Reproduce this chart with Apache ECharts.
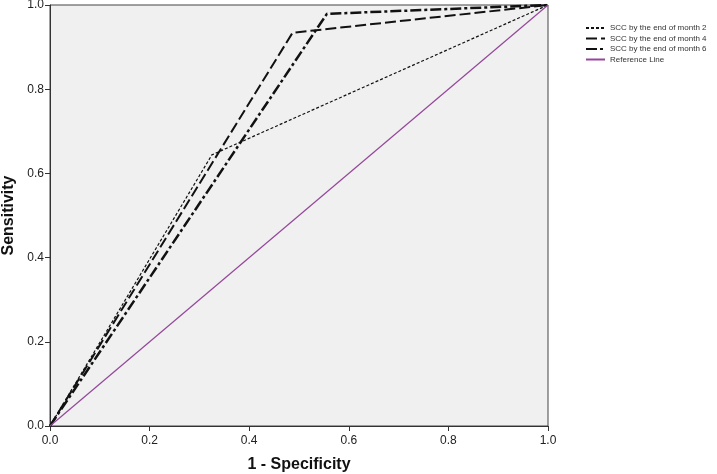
<!DOCTYPE html>
<html>
<head>
<meta charset="utf-8">
<script src="https://cdn.jsdelivr.net/npm/echarts@6/dist/echarts.min.js"></script>
<style>html,body{margin:0;padding:0;background:#fff}#c{width:717px;height:474px}</style>
</head>
<body>
<div id="c"></div>
<script>
const month2X = [0, 0.325, 1];
const month2Y = [0, 0.644, 1];
const month4X = [0, 0.487, 1];
const month4Y = [0, 0.934, 1];
const month6X = [0, 0.556, 1];
const month6Y = [0, 0.979, 1];
const refX = [0, 1];
const refY = [0, 1];
const seriesNames = ['SCC by the end of month 2', 'SCC by the end of month 4', 'SCC by the end of month 6', 'Reference Line'];

const pairs = (xs, ys) => xs.map((x, i) => [x, ys[i]]);
const chart = echarts.init(document.getElementById('c'), null, {renderer: 'canvas'});
const axisLabel = {fontFamily: 'Liberation Sans', fontSize: 12, color: '#222', formatter: v => v.toFixed(1)};
chart.setOption({
  animation: false,
  grid: {left: 50, right: 169, top: 5, bottom: 48, containLabel: false, outerBoundsMode: 'none',
         show: true, backgroundColor: '#f0f0f0', borderColor: '#444', borderWidth: 1},
  legend: {
    orient: 'vertical', left: 580, top: 19, itemWidth: 19, itemHeight: 8, itemGap: 2.5,
    itemStyle: {opacity: 0},
    textStyle: {fontFamily: 'Liberation Sans', fontSize: 8, color: '#333'},
    data: seriesNames
  },
  xAxis: {
    type: 'value', min: 0, max: 1, interval: 0.2,
    name: '1 - Specificity', nameLocation: 'middle', nameGap: 31,
    nameTextStyle: {fontFamily: 'Liberation Sans', fontSize: 16, fontWeight: 'bold', color: '#111'},
    axisLine: {lineStyle: {color: '#333', width: 1}},
    axisTick: {length: 5, lineStyle: {color: '#333'}},
    axisLabel: Object.assign({margin: 9}, axisLabel),
    splitLine: {show: false}
  },
  yAxis: {
    type: 'value', min: 0, max: 1, interval: 0.2,
    name: 'Sensitivity', nameLocation: 'middle', nameGap: 30,
    nameTextStyle: {fontFamily: 'Liberation Sans', fontSize: 16, fontWeight: 'bold', color: '#111'},
    axisLine: {show: true, lineStyle: {color: '#333', width: 1}},
    axisTick: {show: true, length: 5, lineStyle: {color: '#333'}},
    axisLabel: Object.assign({margin: 6}, axisLabel),
    splitLine: {show: false}
  },
  series: [
    {name: seriesNames[0], type: 'line', symbol: 'none', data: pairs(month2X, month2Y),
     lineStyle: {color: '#111', width: 1.2, type: [3, 2]}, itemStyle: {color: '#111'}},
    {name: seriesNames[1], type: 'line', symbol: 'none', data: pairs(month4X, month4Y),
     lineStyle: {color: '#111', width: 2, type: [11, 4]}, itemStyle: {color: '#111'}},
    {name: seriesNames[2], type: 'line', symbol: 'none', data: pairs(month6X, month6Y),
     lineStyle: {color: '#111', width: 2.5, type: [11, 3, 3, 3]}, itemStyle: {color: '#111'}},
    {name: seriesNames[3], type: 'line', symbol: 'none', data: pairs(refX, refY),
     lineStyle: {color: '#93479a', width: 1.2}, itemStyle: {color: '#93479a'}}
  ]
});
</script>
</body>
</html>
